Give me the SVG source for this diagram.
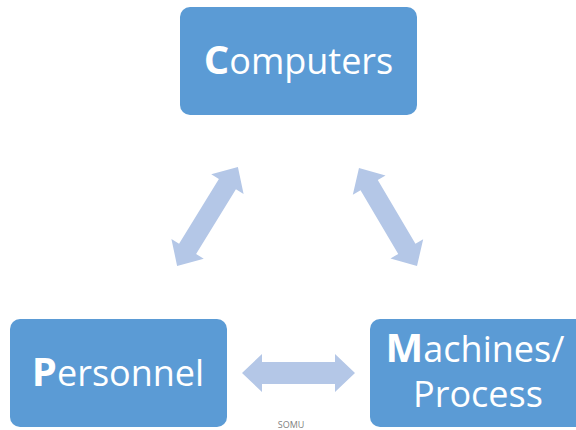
<svg xmlns="http://www.w3.org/2000/svg" width="576" height="430" viewBox="0 0 576 430">
<style>
.box{fill:#5B9BD5;}
.lbl{font-family:"Open Sans","Liberation Sans",sans-serif;font-size:36px;fill:#FFFFFF;text-anchor:middle;}
.big{font-weight:bold;font-size:40px;}
.arr{fill:#B4C7E7;}
.foot{font-family:"Open Sans","Liberation Sans",sans-serif;font-size:9px;fill:#7F7F7F;text-anchor:middle;}
</style>
<rect width="576" height="430" fill="#FFFFFF"/>
<g id="computers">
<rect class="box" x="180" y="7" width="237" height="108" rx="10"/>
<text class="lbl" x="298.5" y="74"><tspan class="big">C</tspan>omputers</text>
</g>
<g id="personnel">
<rect class="box" x="10" y="319" width="217" height="108" rx="10"/>
<text class="lbl" x="118" y="386"><tspan class="big">P</tspan>ersonnel</text>
</g>
<g id="machines">
<rect class="box" x="370" y="319" width="217" height="108" rx="10"/>
<text class="lbl" x="475" y="362"><tspan class="big">M</tspan>achines/</text>
<text class="lbl" x="478" y="407">Process</text>
</g>
<g id="connectors">
<path class="arr" transform="translate(207.5,216.5) rotate(-58.4)" d="M-58 0 L-38 -19 L-38 -10 L38 -10 L38 -19 L58 0 L38 19 L38 10 L-38 10 L-38 19 Z"/>
<path class="arr" transform="translate(388,217) rotate(59.4)" d="M-57 0 L-37 -19 L-37 -10 L37 -10 L37 -19 L57 0 L37 19 L37 10 L-37 10 L-37 19 Z"/>
<path class="arr" transform="translate(298.5,373)" d="M-56.5 0 L-36.5 -19 L-36.5 -11 L36.5 -11 L36.5 -19 L56.5 0 L36.5 19 L36.5 11 L-36.5 11 L-36.5 19 Z"/>
</g>
<text class="foot" x="291" y="428">SOMU</text>
</svg>
